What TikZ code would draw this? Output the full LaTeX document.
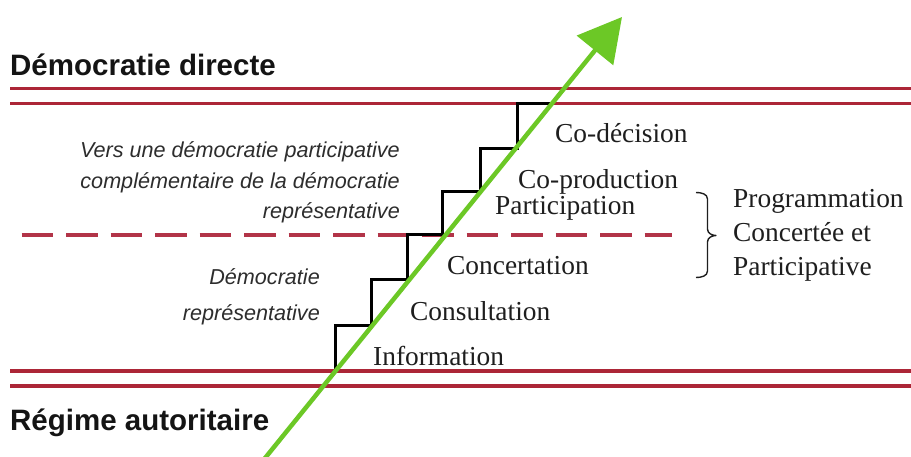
\documentclass[tikz,border=0pt]{standalone}
\usepackage{fontspec}
\setmainfont{Liberation Serif}
\newfontfamily\sansf{Liberation Sans}
\newfontfamily\seriff{Liberation Serif}
\usetikzlibrary{arrows.meta}
\definecolor{redline}{RGB}{172,38,55}
\definecolor{dashred}{RGB}{178,52,72}
\definecolor{arrowgreen}{RGB}{108,200,38}
\definecolor{txtgray}{RGB}{45,45,45}
\definecolor{serifgray}{RGB}{30,30,30}
\tikzset{
  redrule/.style={draw=redline, line width=3.5pt},
  dashrule/.style={draw=dashred, line width=3.5pt, dash pattern=on 31.5pt off 13pt},
  stairs/.style={draw=black, line width=3pt, line join=miter},
  greenarrow/.style={draw=arrowgreen, line width=4.5pt, -{Triangle[length=43pt,width=46pt]}, fill=arrowgreen},
  title/.style={inner sep=0pt, font=\sansf\bfseries\fontsize{29.5}{32}\selectfont, text=black!92},
  note/.style={inner sep=0pt, font=\sansf\itshape\fontsize{21.6}{24}\selectfont, text=txtgray},
  level/.style={inner sep=0pt, anchor=base west, font=\seriff\fontsize{27.4}{30}\selectfont, text=serifgray},
  bracket/.style={draw=serifgray, line width=1.4pt, line join=round}
}
\begin{document}
\begin{tikzpicture}[x=1pt,y=-1pt]
\useasboundingbox (0,0) rectangle (911,457);
\fill[white] (0,0) rectangle (911,457);
% horizontal rules
\draw[redrule] (10,88.5) -- (911,88.5);
\draw[redrule] (10,103.5) -- (911,103.5);
\draw[redrule] (10,371) -- (911,371);
\draw[redrule] (10,386) -- (911,386);
\draw[dashrule] (21.5,235) -- (672,235);
% staircase
\draw[stairs] (335,371) -- (335,326) -- (371,326) -- (371,280) -- (407,280) -- (407,235) -- (442,235) -- (442,192) -- (480,192) -- (480,149) -- (517,149) -- (517,103.5) -- (552,103.5);
% green arrow
\coordinate (gstart) at (263.5,460);
\coordinate (gtip) at (622,17);
\draw[greenarrow] (gstart) -- (gtip);
% titles
\node[title, anchor=base west] (dd) at (10,76) {Démocratie directe};
\node[title, anchor=base west] (ra) at (10,430) {Régime autoritaire};
% italic notes
\node[note, anchor=base east] (v1) at (400,157.5) {Vers une démocratie participative};
\node[note, anchor=base east] (v2) at (400,189) {complémentaire de la démocratie};
\node[note, anchor=base east] (v3) at (400,219) {représentative};
\node[note, anchor=base east] (r1) at (320,285) {Démocratie};
\node[note, anchor=base east] (r2) at (320,320) {représentative};
% levels
\node[level] (info) at (373,365) {Information};
\node[level] (cons) at (410,320) {Consultation};
\node[level] (conc) at (447,275) {Concertation};
\node[level] (part) at (495,214.5) {Participation};
\node[level] (copr) at (518,188.5) {Co-production};
\node[level] (codec) at (555,143) {Co-décision};
% brace and programme
\draw[bracket] (696,192.5) to[out=0,in=90] (707.5,199) -- (707.5,229) to[out=270,in=180] (716,235.5) to[out=180,in=90] (707.5,242) -- (707.5,271) to[out=270,in=0] (696,277.5);
\node[level] (p1) at (733,208) {Programmation};
\node[level] (p2) at (733,242) {Concertée et};
\node[level] (p3) at (733,276) {Participative};
\end{tikzpicture}
\end{document}
